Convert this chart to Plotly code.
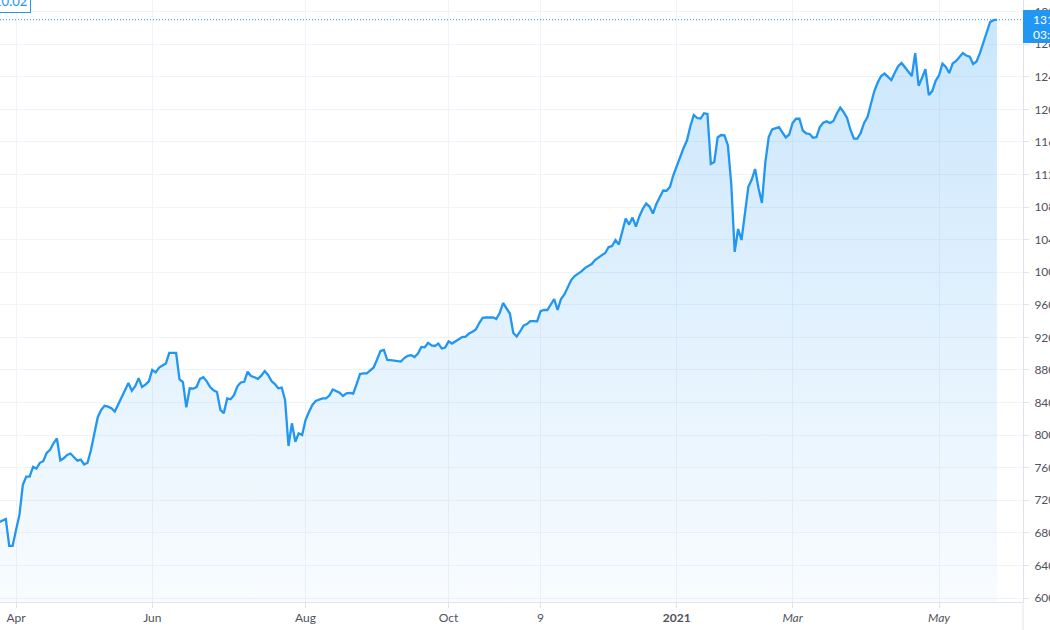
import plotly.graph_objects as go

# Daily closing values, one per trading session (session 0 = late March 2020)
closes = [
    693, 695, 697, 664, 664, 683.5, 702, 739, 749, 749,
    761, 759, 766, 768, 778, 782, 790, 796, 769, 771.5,
    775.6, 777.4, 773, 768.6, 770, 764, 766, 781.7, 802, 822,
    831, 836, 835, 833, 829, 838, 847, 854.5, 864, 854.5,
    860, 870, 859, 862, 866, 880, 877, 883, 885, 888,
    901, 901, 901, 868.5, 865, 834, 857.5, 857, 859, 869,
    871, 866, 859, 855, 853, 831, 827, 845, 844, 849,
    860, 864.6, 865.5, 877.8, 872.5, 871, 869, 873, 878.7, 873.8,
    866.4, 862.7, 857.5, 858.4, 843, 786.6, 814.5, 791.9, 802.2, 800,
    818.5, 828.3, 837, 841.9, 843.5, 845, 845.2, 848.6, 856, 853.8,
    852.2, 848, 851.3, 851.9, 851, 862.7, 875, 875.9, 875.9, 879.5,
    883, 892.8, 903.2, 904.5, 892.2, 892, 891.6, 891, 890.3, 894.6,
    897.4, 898.2, 895.9, 900.2, 908.2, 907.8, 913.3, 910.2, 909.4, 912.4,
    906.3, 907.5, 915.1, 912.4, 914.9, 917.2, 920.4, 921, 924.7, 926.9,
    929.6, 937.6, 944, 944.4, 944.6, 944.6, 942.5, 949.9, 962.2, 956,
    949.3, 925.3, 921, 927.2, 934.5, 936.4, 940, 940, 939.7, 952.3,
    953.6, 953.6, 959.7, 967.1, 953.6, 967, 972.6, 981.8, 990.4, 995.3,
    997.8, 1001, 1005, 1007.6, 1010, 1015, 1018.6, 1021, 1023.6, 1030.9,
    1032.2, 1039.5, 1034, 1049.3, 1065.9, 1058.5, 1067.1, 1056, 1068.4, 1077.6,
    1084.3, 1080.6, 1072, 1083.7, 1091.7, 1100.3, 1100, 1104.8, 1119.3, 1131,
    1140.8, 1152.5, 1161.9, 1179.5, 1193, 1189.3, 1188.7, 1195.2, 1194.2, 1133,
    1135.3, 1165.4, 1168.4, 1168, 1156, 1108, 1025, 1053, 1039.5, 1071.4,
    1104.6, 1113.7, 1126.7, 1103, 1085, 1135, 1166, 1175.4, 1176.4, 1178.2,
    1171.6, 1165.4, 1169, 1183.2, 1188.4, 1188.4, 1174, 1170.5, 1169.7, 1165,
    1166, 1178.2, 1183.5, 1185.2, 1183.2, 1185.6, 1194.8, 1202, 1196.4, 1189.3,
    1174.6, 1163.9, 1163.9, 1171, 1183.2, 1190.5, 1206.5, 1222.4, 1232.9, 1240.9,
    1243.9, 1239.6, 1236, 1244.9, 1253, 1256.8, 1251.9, 1246, 1240.9, 1269,
    1229, 1238.4, 1249.4, 1217.5, 1222.4, 1235, 1241.7, 1256, 1252, 1244.5,
    1256.2, 1259.3, 1264.2, 1269.1, 1266, 1264.7, 1255.6, 1258.7, 1269, 1281.4,
    1293.7, 1307.2, 1309.5, 1310.02,
]
sessions = list(range(len(closes)))

tick_sessions = [5, 45, 90, 132, 159, 199, 233, 276]
tick_labels = ["Apr", "Jun", "Aug", "Oct", "9", "<b>2021</b>", "<i>Mar</i>", "<i>May</i>"]

last_price_text = "1310.02"
countdown_text = "03:12:47"

BLUE = "#2196F3"
GRID = "#F0F3FA"
BORDER = "#E0E3EB"
TEXT = "#50535E"

W, H = 1050, 630
ML, MR, MT, MB = 0, 27, 0, 28
PW, PH = W - ML - MR, H - MT - MB

fig = go.Figure()
fig.add_trace(go.Scatter(
    x=sessions, y=closes, mode="lines",
    line=dict(color=BLUE, width=2.3),
    fill="tozeroy",
    fillgradient=dict(
        type="vertical", start=595, stop=closes[-1],
        colorscale=[[0, "rgba(33,150,243,0.03)"], [1, "rgba(33,150,243,0.24)"]],
    ),
    hoverinfo="skip",
))

last = closes[-1]

fig.update_layout(
    width=W, height=H,
    margin=dict(l=ML, r=MR, t=MT, b=MB, autoexpand=False),
    paper_bgcolor="white", plot_bgcolor="white",
    showlegend=False,
    font=dict(family="Lato, Roboto, sans-serif", size=12, color=TEXT),
    xaxis=dict(
        range=[0.294, 300.65],
        tickmode="array", tickvals=tick_sessions, ticktext=tick_labels,
        showgrid=True, gridcolor=GRID, gridwidth=1,
        ticks="outside", ticklen=5, tickcolor=BORDER,
        showline=True, linecolor=BORDER, linewidth=1,
        zeroline=False, fixedrange=True, automargin=False,
        tickfont=dict(size=12, color=TEXT),
    ),
    yaxis=dict(
        side="right",
        range=[595.1, 1334.2],
        tick0=600, dtick=40, tickformat="d",
        showgrid=True, gridcolor=GRID, gridwidth=1,
        ticks="outside", ticklen=5, tickcolor=BORDER,
        showline=True, linecolor=BORDER, linewidth=1,
        zeroline=False, fixedrange=True, automargin=False,
        tickfont=dict(size=12, color=TEXT),
        ticklabelstandoff=3,
    ),
    shapes=[
        # right price-scale border continues down through the time scale
        dict(type="line", xref="paper", yref="paper", x0=1, x1=1, y0=0, y1=-MB / PH,
             line=dict(color=BORDER, width=1), layer="above"),
        # last price dotted line
        dict(type="line", xref="paper", yref="y", x0=0, x1=1, y0=last, y1=last,
             line=dict(color=BLUE, width=1, dash="1px,2px"), layer="above"),
        # last price box on the scale
        dict(type="rect", xref="paper", yref="paper",
             x0=1, x1=1 + 40 / PW, y0=1 - 43 / PH, y1=1 - 10 / PH,
             fillcolor=BLUE, line=dict(width=0), layer="above"),
    ],
    annotations=[
        dict(xref="paper", yref="y", x=1 + 8 / PW, y=last, xanchor="left", yanchor="middle",
             text=last_price_text, showarrow=False, font=dict(color="white", size=12)),
        dict(xref="paper", yref="paper", x=1 + 8 / PW, y=1 - 35 / PH, xanchor="left", yanchor="middle",
             text=countdown_text, showarrow=False, font=dict(color="white", size=12)),
        dict(xref="paper", yref="paper", x=31 / PW, y=1 - 13 / PH, xanchor="right", yanchor="bottom",
             text=last_price_text, showarrow=False, font=dict(color=BLUE, size=13),
             bgcolor="white", bordercolor=BLUE, borderwidth=1, borderpad=3),
    ],
)

fig.write_html("out.html")
